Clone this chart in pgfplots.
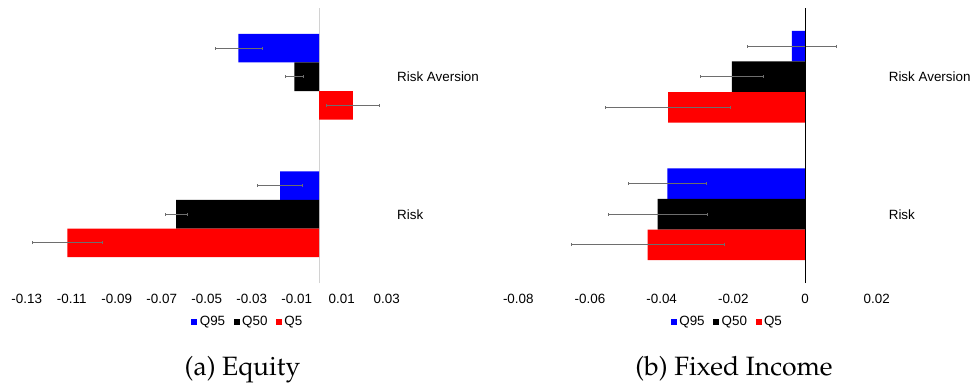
\documentclass[border=0pt]{standalone}
\usepackage[T1]{fontenc}
\usepackage{fontspec}
\setmainfont{Liberation Sans}
\usepackage{pgfplots}
\pgfplotsset{compat=1.18}
\definecolor{errgray}{RGB}{110,110,110}
\newcommand{\capfont}{\fontencoding{T1}\fontfamily{ppl}\fontseries{m}\fontshape{n}\fontsize{26.5}{29}\selectfont}
\pgfplotsset{
  mybars/.style={
    scale only axis,
    anchor=south west,
    height=275pt,
    ymin=-0.5, ymax=1.5,
    xbar,
    axis line style={draw=none},
    major tick length=0pt,
    ytick={0,1},
    yticklabels={Risk,Risk Aversion},
    yticklabel pos=right,
    yticklabel style={anchor=west},
    xticklabel style={yshift=-8pt},
    ticklabel style={font=\fontsize{13.4}{15}\selectfont},
    /pgf/number format/assume math mode=true,
    scaled x ticks=false,
    legend columns=-1,
    legend style={draw=none, fill=none, font=\fontsize{13.4}{15}\selectfont,
      /tikz/every even column/.append style={column sep=6pt},
      nodes={inner xsep=2.5pt, inner ysep=1.5pt}},
    legend image code/.code={\fill[##1] (0pt,-3pt) rectangle (6pt,3pt);},
    error bars/x dir=both,
    error bars/x explicit,
    error bars/error bar style={errgray, line width=0.8pt},
    error bars/error mark options={errgray, mark size=1.4pt, line width=0.6pt, rotate=90},
  }
}
\begin{document}
\begin{tikzpicture}
\path[use as bounding box] (0,0) rectangle (974pt,384pt);
% ---------- (a) Equity ----------
\begin{axis}[mybars,
  at={(26.7pt,101pt)}, width=360pt,
  xmin=-0.13, xmax=0.03,
  xtick={-0.13,-0.11,-0.09,-0.07,-0.05,-0.03,-0.01,0.01,0.03},
  xticklabels={-0.13,-0.11,-0.09,-0.07,-0.05,-0.03,-0.01,0.01,0.03},
  bar width=0.208,
  yticklabel style={xshift=7pt},
  legend style={at={(axis description cs:0.615,-0.142)}, anchor=center},
]
\draw[gray!35, line width=1.3pt] (axis cs:0,-0.5) -- (axis cs:0,1.5);
\addplot[fill=blue, draw=none, bar shift=0.208] coordinates {(-0.0359,1) +- (0.0105,0) (-0.0174,0) +- (0.0101,0)};
\addplot[fill=black, draw=none, bar shift=0] coordinates {(-0.0110,1) +- (0.0041,0) (-0.0636,0) +- (0.0049,0)};
\addplot[fill=red, draw=none, bar shift=-0.208] coordinates {(0.0150,1) +- (0.0119,0) (-0.1119,0) +- (0.0155,0)};
\legend{Q95,Q50,Q5}
\end{axis}
% ---------- (b) Fixed Income ----------
\begin{axis}[mybars,
  at={(518.3pt,101pt)}, width=358.4pt,
  xmin=-0.08, xmax=0.02,
  xtick={-0.08,-0.06,-0.04,-0.02,0,0.02},
  xticklabels={-0.08,-0.06,-0.04,-0.02,0,0.02},
  bar width=0.222,
  yticklabel style={xshift=8.6pt},
  legend style={at={(axis description cs:0.584,-0.142)}, anchor=center},
]
\addplot[fill=blue, draw=none, bar shift=0.222] coordinates {(-0.0037,1) +- (0.0124,0) (-0.0384,0) +- (0.0108,0)};
\addplot[fill=black, draw=none, bar shift=0] coordinates {(-0.0204,1) +- (0.0087,0) (-0.0411,0) +- (0.0138,0)};
\addplot[fill=red, draw=none, bar shift=-0.222] coordinates {(-0.0382,1) +- (0.0174,0) (-0.0439,0) +- (0.0213,0)};
\draw[black, line width=0.9pt] (axis cs:0,-0.5) -- (axis cs:0,1.55);
\legend{Q95,Q50,Q5}
\end{axis}
% ---------- captions ----------
\node[anchor=base, inner sep=0pt] at (242.5pt,9pt) {\capfont (a) Equity};
\node[anchor=base, inner sep=0pt] at (734pt,9pt) {\capfont (b) Fixed Income};
\end{tikzpicture}
\end{document}
